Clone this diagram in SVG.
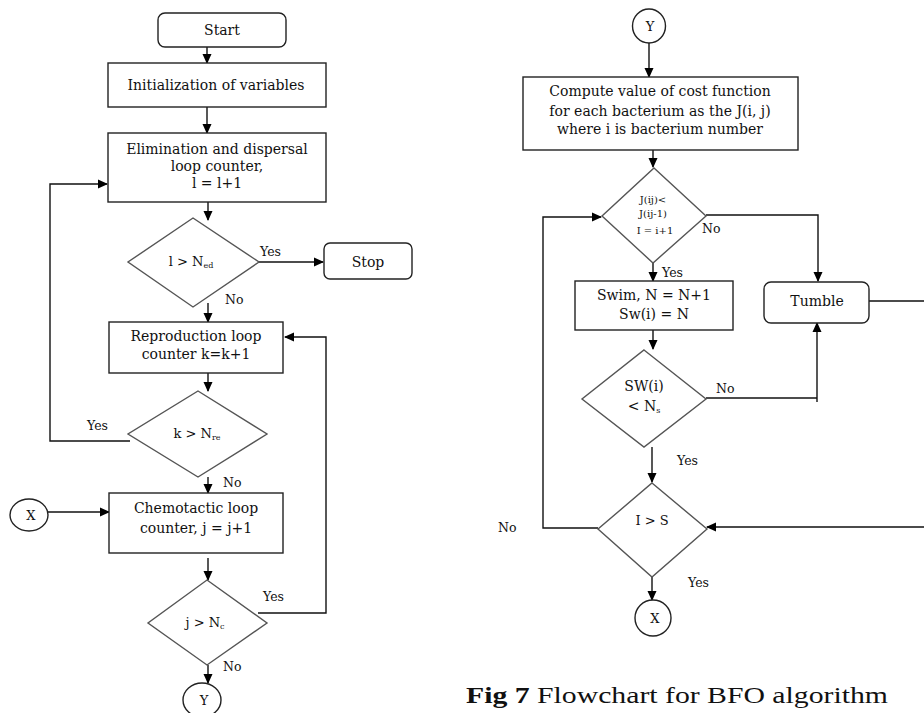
<svg xmlns="http://www.w3.org/2000/svg" width="924" height="713" viewBox="0 0 924 713">
<defs>
<marker id="ah" markerWidth="10" markerHeight="10" refX="9" refY="5" orient="auto" markerUnits="userSpaceOnUse">
<path d="M0,0.5 L10,5 L0,9.5 Z" fill="#000"/>
</marker>
<style>
text{font-family:"DejaVu Serif","Liberation Serif",serif;fill:#111;}
.t{font-size:14px;text-anchor:middle;}
.d{font-size:13px;text-anchor:middle;}
.s{font-size:10px;text-anchor:middle;}
.l{font-size:12.5px;}
.box{fill:#fff;stroke:#222;stroke-width:1.4;}
.dia{fill:#fff;stroke:#555;stroke-width:1.4;}
.c{fill:none;stroke:#111;stroke-width:1.4;}
.cap{font-family:"Liberation Serif","DejaVu Serif",serif;font-size:24px;}
</style>
</defs>
<rect width="924" height="713" fill="#fff"/>

<g id="connectors">
<path class="c" d="M207 47 V63" marker-end="url(#ah)"/>
<path class="c" d="M207 107 V133" marker-end="url(#ah)"/>
<path class="c" d="M208 202 V220" marker-end="url(#ah)"/>
<path class="c" d="M259 262 H323" marker-end="url(#ah)"/>
<path class="c" d="M208 303 V322" marker-end="url(#ah)"/>
<path class="c" d="M208 373 V391" marker-end="url(#ah)"/>
<path class="c" d="M130 441 H50 V184 H107" marker-end="url(#ah)"/>
<path class="c" d="M208 477 V493" marker-end="url(#ah)"/>
<path class="c" d="M48 512 H109" marker-end="url(#ah)"/>
<path class="c" d="M208 558 V580" marker-end="url(#ah)"/>
<path class="c" d="M258 613 H326 V337 H285" marker-end="url(#ah)"/>
<path class="c" d="M208 665 V683" marker-end="url(#ah)"/>

<path class="c" d="M649 43 V77" marker-end="url(#ah)"/>
<path class="c" d="M653 150 V167" marker-end="url(#ah)"/>
<path class="c" d="M706 215 H818 V281" marker-end="url(#ah)"/>
<path class="c" d="M653 263 V281" marker-end="url(#ah)"/>
<path class="c" d="M653 330 V349" marker-end="url(#ah)"/>
<path class="c" d="M706 398 H817"/>
<path class="c" d="M817 402 V323" marker-end="url(#ah)"/>
<path class="c" d="M652 447 V482" marker-end="url(#ah)"/>
<path class="c" d="M869 301 H935 V527 H707" marker-end="url(#ah)"/>
<path class="c" d="M598 528 H543 V217 H601" marker-end="url(#ah)"/>
<path class="c" d="M652 577 V600" marker-end="url(#ah)"/>

<text class="l" x="260" y="256">Yes</text>
<text class="l" x="225" y="304">No</text>
<text class="l" x="87" y="430">Yes</text>
<text class="l" x="223" y="487">No</text>
<text class="l" x="263" y="601">Yes</text>
<text class="l" x="223" y="671">No</text>
<text class="l" x="702" y="233">No</text>
<text class="l" x="662" y="277">Yes</text>
<text class="l" x="716" y="393">No</text>
<text class="l" x="677" y="465">Yes</text>
<text class="l" x="498" y="532">No</text>
<text class="l" x="688" y="587">Yes</text>
</g>

<g id="start">
<rect class="box" x="158" y="13" width="128" height="34" rx="7"/>
<text class="t" x="222" y="35">Start</text>
</g>
<g id="init">
<rect class="box" x="108" y="63" width="218" height="44"/>
<text class="t" x="216" y="90">Initialization of variables</text>
</g>
<g id="elimination">
<rect class="box" x="108" y="133" width="218" height="69"/>
<text class="t" x="217" y="154">Elimination and dispersal</text>
<text class="t" x="217" y="171">loop counter,</text>
<text class="t" x="217" y="188">l = l+1</text>
</g>
<g id="dec-l">
<polygon class="dia" points="193,218 259,262 193,307 128,262"/>
<text class="d" x="191" y="266">l &gt; N<tspan font-size="8" dy="2">ed</tspan></text>
</g>
<g id="stop">
<rect class="box" x="324" y="243" width="88" height="36" rx="6"/>
<text class="t" x="368" y="267">Stop</text>
</g>
<g id="reproduction">
<rect class="box" x="109" y="322" width="174" height="51"/>
<text class="t" x="196" y="341">Reproduction loop</text>
<text class="t" x="196" y="359">counter k=k+1</text>
</g>
<g id="dec-k">
<polygon class="dia" points="198,391 267,434 198,477 128,434"/>
<text class="d" x="197" y="438">k &gt; N<tspan font-size="8" dy="2">re</tspan></text>
</g>
<g id="x-left">
<ellipse class="box" cx="29" cy="515" rx="19" ry="16"/>
<text class="d" x="31" y="520">X</text>
</g>
<g id="chemotactic">
<rect class="box" x="109" y="493" width="174" height="60"/>
<text class="t" x="196" y="513">Chemotactic loop</text>
<text class="t" x="196" y="533">counter, j = j+1</text>
</g>
<g id="dec-j">
<polygon class="dia" points="207,580 267,623 207,665 148,623"/>
<text class="d" x="205" y="627">j &gt; N<tspan font-size="8" dy="2">c</tspan></text>
</g>
<g id="y-left">
<ellipse class="box" cx="202" cy="700" rx="19" ry="17"/>
<text class="d" x="204" y="705">Y</text>
</g>

<g id="y-top">
<ellipse class="box" cx="649" cy="26" rx="16.5" ry="17"/>
<text class="d" x="650" y="31">Y</text>
</g>
<g id="compute">
<rect class="box" x="523" y="77" width="275" height="73"/>
<text class="t" x="660" y="96">Compute value of cost function</text>
<text class="t" x="660" y="116">for each bacterium as the J(i, j)</text>
<text class="t" x="660" y="134">where i is bacterium number</text>
</g>
<g id="dec-cost">
<polygon class="dia" points="654,168 706,216 653,263 602,216"/>
<text class="s" x="653" y="203">J(ij)&lt;</text>
<text class="s" x="653" y="217">J(ij-1)</text>
<text class="s" x="655" y="234">I = i+1</text>
</g>
<g id="swim">
<rect class="box" x="575" y="281" width="158" height="49"/>
<text class="t" x="654" y="300">Swim, N = N+1</text>
<text class="t" x="654" y="319">Sw(i) = N</text>
</g>
<g id="tumble">
<rect class="box" x="764" y="282" width="105" height="41" rx="7"/>
<text class="t" x="817" y="306">Tumble</text>
</g>
<g id="dec-sw">
<polygon class="dia" points="644,350 706,399 644,447 582,399"/>
<text class="t" x="644" y="391">SW(i)</text>
<text class="t" x="644" y="411">&lt; N<tspan font-size="8" dy="2">s</tspan></text>
</g>
<g id="dec-s">
<polygon class="dia" points="652,483 707,529 652,577 598,529"/>
<text class="d" x="652" y="525" font-size="12">I &gt; S</text>
</g>
<g id="x-right">
<ellipse class="box" cx="653" cy="618" rx="18" ry="18"/>
<text class="d" x="655" y="623">X</text>
</g>

<g id="caption">
<text class="cap" x="466" y="703" textLength="422" lengthAdjust="spacingAndGlyphs"><tspan font-weight="bold">Fig 7</tspan> Flowchart for BFO algorithm</text>
</g>
</svg>
